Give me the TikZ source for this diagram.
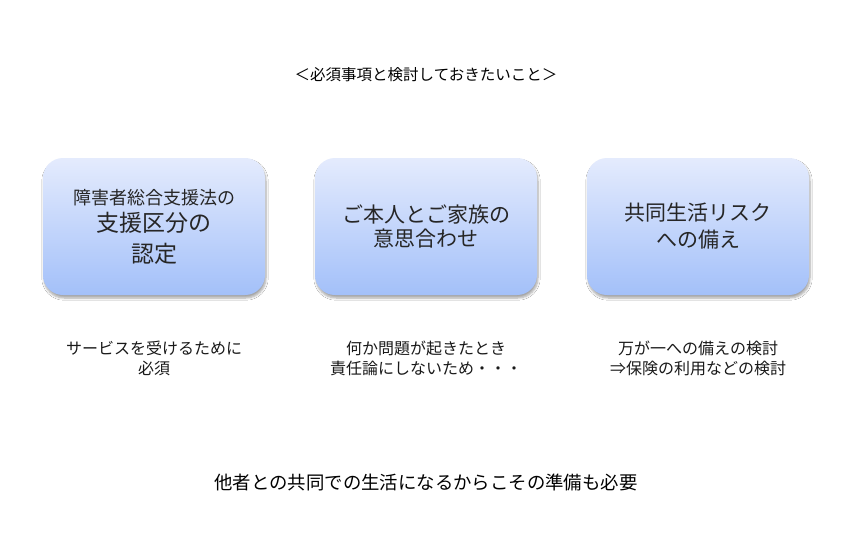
\documentclass[tikz,border=0pt]{standalone}
\usepackage{fontspec}
\setmainfont{Noto Sans CJK JP}
\usepackage{tikz}
\usetikzlibrary{shadows.blur}

\definecolor{boxtop}{RGB}{228,235,253}
\definecolor{boxbottom}{RGB}{163,192,249}

\tikzset{
    theme/.style={rounded corners=20pt, minimum width=222pt, minimum height=137pt,
        top color=boxtop, bottom color=boxbottom, text=black!85, align=center,
        font=\fontsize{21}{25}\selectfont,
        blur shadow={shadow xshift=1pt, shadow yshift=-3pt, shadow blur steps=6, shadow opacity=35}},
    note/.style={align=center, text=black!90, font=\fontsize{16}{20}\selectfont}
}

\begin{document}
\begin{tikzpicture}[x=1pt,y=-1pt]
    \useasboundingbox [fill=white] (0,0) rectangle (858,533);

    \node [font=\fontsize{15.5}{18}\selectfont] (title) at (426,75) {＜必須事項と検討しておきたいこと＞};

    % three themes
    \node [theme, font=\fontsize{23}{30}\selectfont] (shien) at (154,226.5)
        {{\fontsize{18}{22}\selectfont 障害者総合支援法の}\\[-3pt] 支援区分の\\[1pt] 認定};
    \node [theme] (ishi) at (426,226.5) {ご本人とご家族の\\[-1pt] 意思合わせ};
    \node [theme] (risk) at (698,226.5) {共同生活リスク\\[2pt] への備え};

    % notes under the themes
    \node [note] (shien note) at (154,358) {サービスを受けるために\\ 必須};
    \node [note] (ishi note) at (426,358) {何か問題が起きたとき\\ 責任論にしないため・・・};
    \node [note] (risk note) at (698,358) {万が一への備えの検討\\ ⇒保険の利用などの検討};

    \node [font=\fontsize{18.4}{22}\selectfont] (summary) at (426,482) {他者との共同での生活になるからこその準備も必要};
\end{tikzpicture}
\end{document}
